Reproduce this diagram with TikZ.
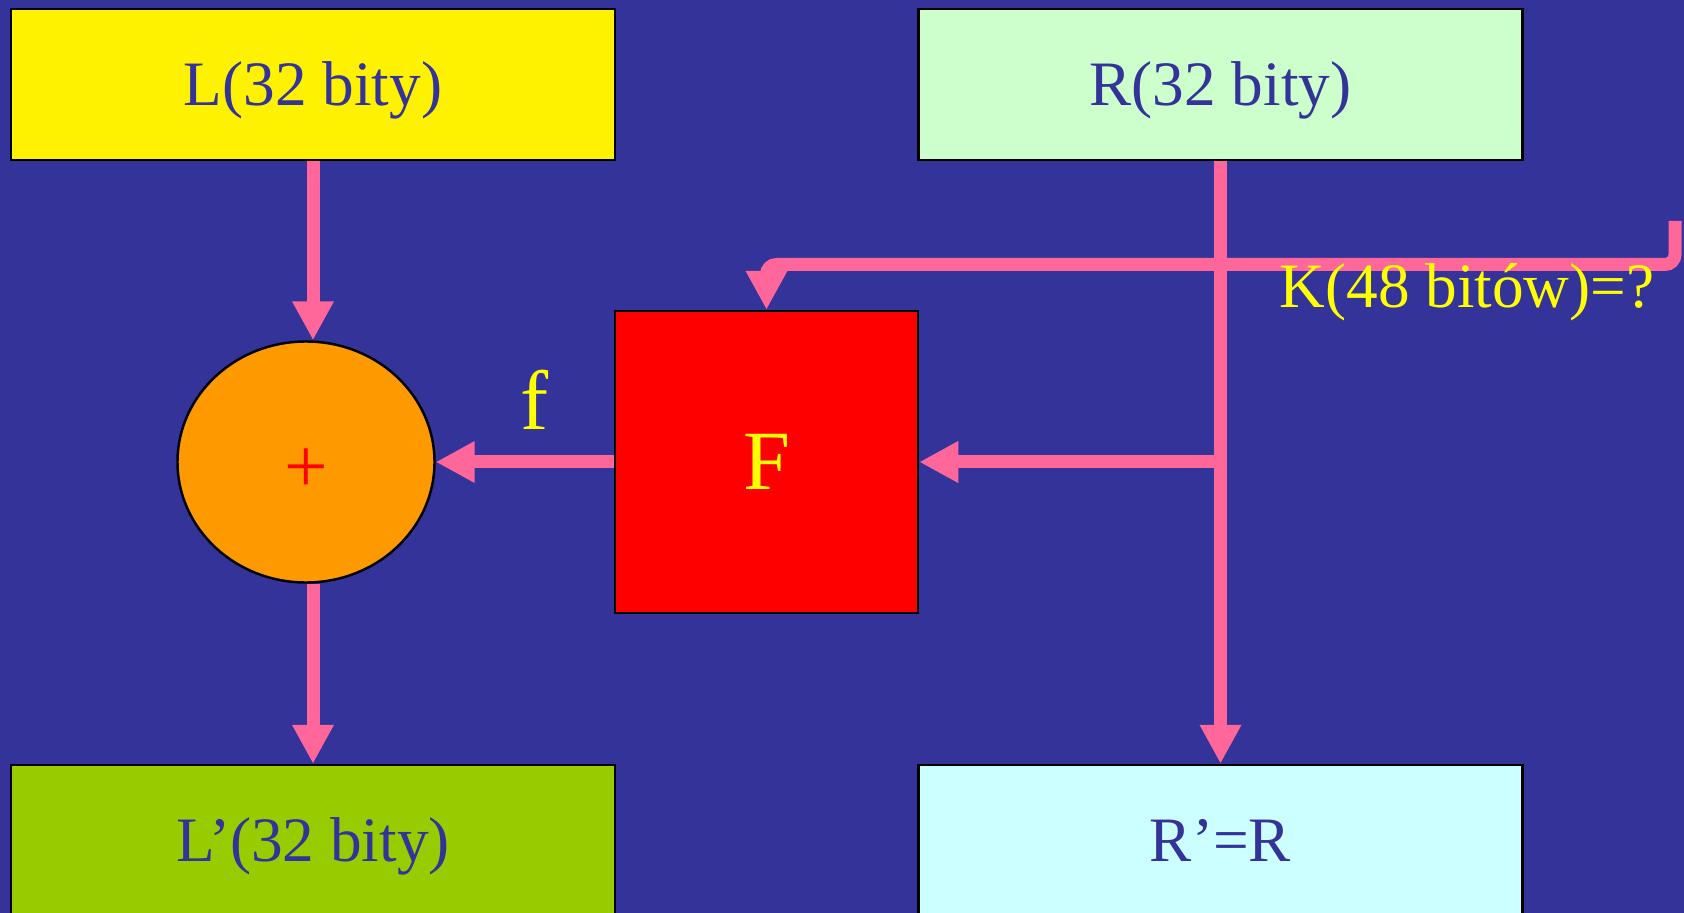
\documentclass[tikz,border=0pt]{standalone}
\usepackage{fontspec}
\setmainfont{Liberation Serif}
\usetikzlibrary{positioning,shapes.geometric,arrows.meta}
\definecolor{tlo}{HTML}{333399}
\definecolor{roz}{HTML}{FF6699}
\definecolor{zolty}{HTML}{FFFF00}
\definecolor{mieta}{HTML}{CCFFCC}
\definecolor{oliwka}{HTML}{99CC00}
\definecolor{blekit}{HTML}{CCFFFF}
\definecolor{pomar}{HTML}{FF9900}
\tikzset{
  blok/.style  = {rectangle, draw=black, line width=0.7pt, minimum width=60.4mm, minimum height=15.1mm, inner sep=0, text=tlo, text height=5mm, text depth=0.8mm, font=\fontsize{18}{22}\selectfont},
  suma/.style  = {ellipse, draw=black, line width=0.7pt, fill=pomar, minimum width=25.7mm, minimum height=24.1mm, inner sep=0, text=red, text height=6.1mm, text depth=0, font=\fontsize{22}{26}\selectfont},
  fun/.style   = {rectangle, draw=black, line width=0.7pt, fill=red, minimum width=30.3mm, minimum height=30.2mm, inner sep=0, text=zolty, font=\fontsize{24}{28}\selectfont},
  linia/.style = {draw=roz, line width=1.3mm},
  strz/.style  = {linia, -{Triangle[length=3.9mm, width=3.9mm]}},
  et/.style    = {text=zolty, inner sep=0}
}

\begin{document}
\begin{tikzpicture}
  % tlo slajdu
  \fill[tlo] (0,0) rectangle (16.84,-9.13);
  \useasboundingbox (0,0) rectangle (16.84,-9.13);
  % bloki: wejscie, wyjscie, suma i funkcja F
  \node[blok, fill=yellow] (L)  at (3.13,-0.845)   {L(32 bity)};
  \node[blok, fill=mieta]  (R)  at (12.205,-0.845) {R(32 bity)};
  \node[blok, fill=oliwka] (Lp) at (3.13,-8.405)   {L'(32 bity)};
  \node[blok, fill=blekit] (Rp) at (12.205,-8.405) {R'=R};
  \node[suma] (S) at (3.06,-4.62) {+};
  \node[fun]  (F) at (7.665,-4.62) {F};
  % polaczenia
  \draw[strz] (L.south) -- (L.south |- S.north);
  \draw[strz] (S.south -| Lp.north) -- (Lp.north);
  \draw[strz] (R.south) -- (Rp.north);
  \coordinate (j) at (R.south |- F.east);
  \draw[strz] (j) -- (F.east);
  \draw[strz] (F.west) -- (S.east);
  \node[et, font=\fontsize{24}{28}\selectfont, anchor=base] (f) at (5.35,-4.30) {f};
  % klucz rundy
  \coordinate (k) at (16.75,-2.21);
  \draw[strz, rounded corners=1mm] (k) -- ++(0,-0.435) -| (F.north);
  \node[et, font=\fontsize{18}{22}\selectfont, anchor=base] (K) at (14.67,-3.08) {K(48 bitów)=?};
\end{tikzpicture}
\end{document}
